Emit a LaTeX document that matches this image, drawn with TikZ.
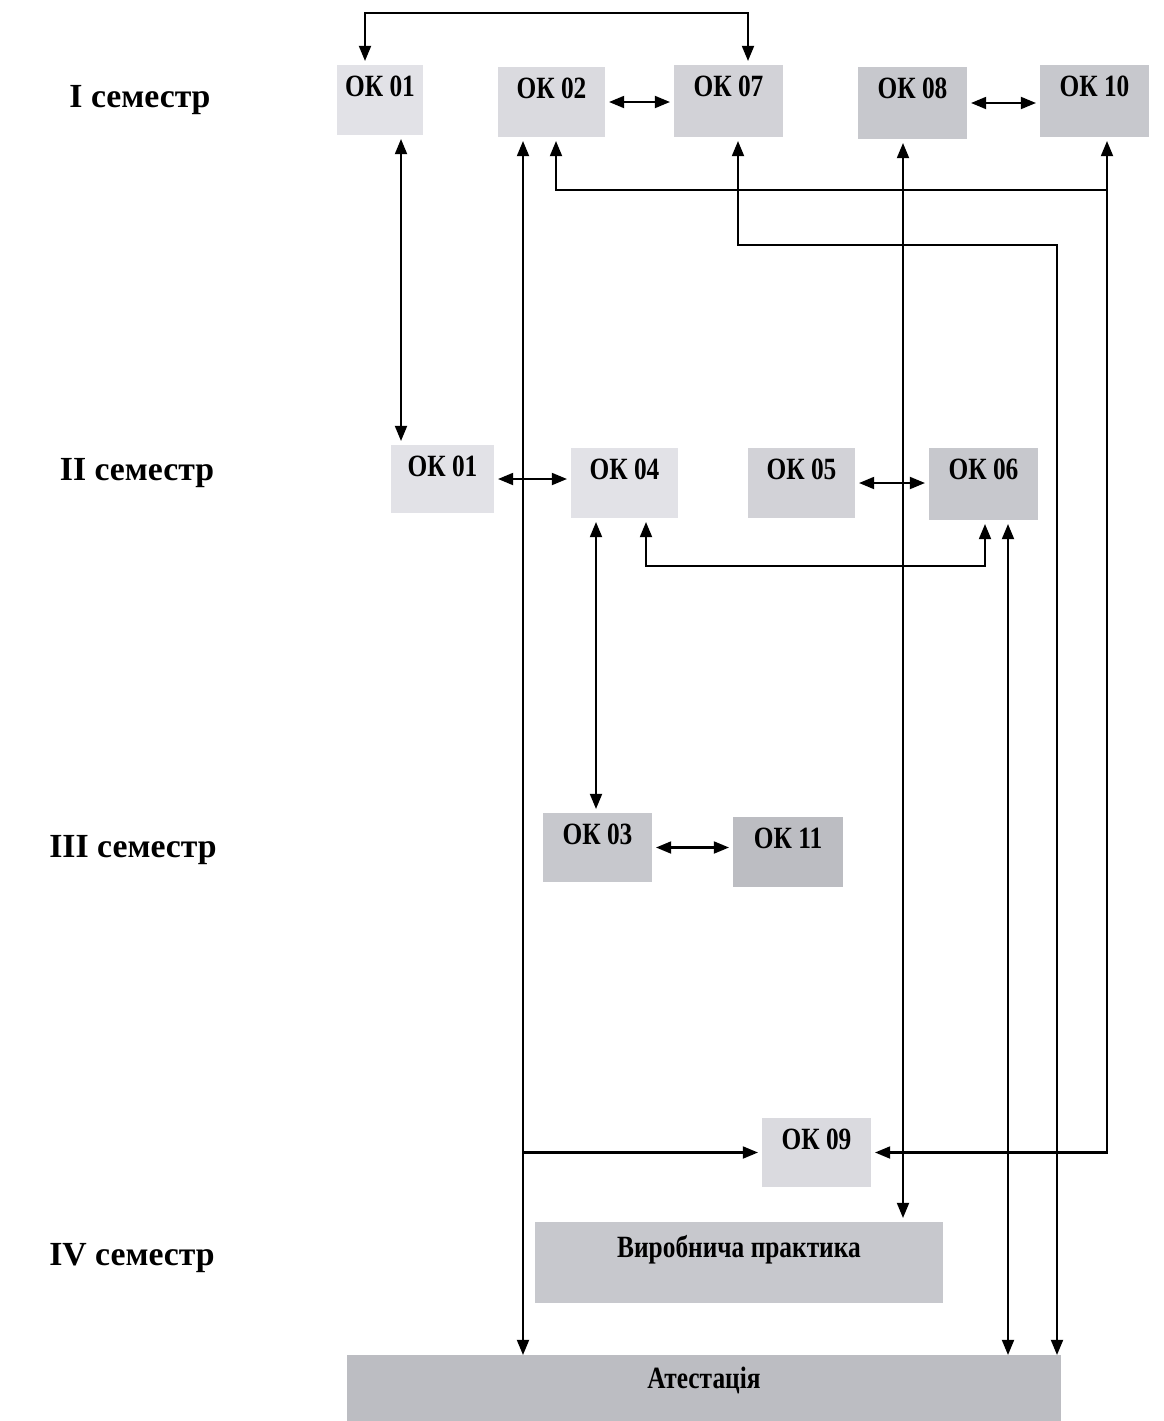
\documentclass[tikz,border=0pt]{standalone}
\usepackage{fontspec}
\setmainfont{Liberation Serif}
\usetikzlibrary{arrows.meta}

\definecolor{grayA}{RGB}{226,226,231}
\definecolor{grayB}{RGB}{218,218,223}
\definecolor{grayC}{RGB}{210,210,215}
\definecolor{grayD}{RGB}{199,200,205}
\definecolor{grayE}{RGB}{188,189,194}

\newcommand{\oktext}[1]{\scalebox{0.82}[1]{#1}}

\tikzset{
  okbox/.style={fill=#1, inner sep=0pt, outer sep=0.1cm, text height=0.78cm,
    font=\bfseries\fontsize{22}{24}\selectfont},
  semlabel/.style={font=\bfseries\fontsize{24}{28}\selectfont},
}

\begin{document}
\begin{tikzpicture}[x=0.025cm, y=-0.025cm, line width=1.5pt,
    >={Triangle[length=3.8mm,width=3mm]}]
    \useasboundingbox (0,0) rectangle (1164,1421);

    % semesters
    \node[semlabel] (sem1) at (140,100) {I семестр};
    \node[semlabel] (sem2) at (137,473) {II семестр};
    \node[semlabel] (sem3) at (133,850) {III семестр};
    \node[semlabel] (sem4) at (132,1258) {IV семестр};

    % I semester
    \node[okbox=grayA, minimum width=2.15cm, text depth=0.97cm] (ok01a) at (380,100) {\oktext{ОК 01}};
    \node[okbox=grayB, minimum width=2.675cm, text depth=0.97cm] (ok02) at (551.5,102) {\oktext{ОК 02}};
    \node[okbox=grayC, minimum width=2.725cm, text depth=1.02cm] (ok07) at (728.5,101) {\oktext{ОК 07}};
    \node[okbox=grayD, minimum width=2.725cm, text depth=1.02cm] (ok08) at (912.5,103) {\oktext{ОК 08}};
    \node[okbox=grayD, minimum width=2.725cm, text depth=1.02cm] (ok10) at (1094.5,101) {\oktext{ОК 10}};

    % II semester
    \node[okbox=grayA, minimum width=2.575cm, text depth=0.92cm] (ok01b) at (442.5,479) {\oktext{ОК 01}};
    \node[okbox=grayA, minimum width=2.675cm, text depth=0.97cm] (ok04) at (624.5,483) {\oktext{ОК 04}};
    \node[okbox=grayC, minimum width=2.675cm, text depth=0.97cm] (ok05) at (801.5,483) {\oktext{ОК 05}};
    \node[okbox=grayD, minimum width=2.725cm, text depth=1.02cm] (ok06) at (983.5,484) {\oktext{ОК 06}};

    % III semester
    \node[okbox=grayD, minimum width=2.725cm, text depth=0.945cm] (ok03) at (597.5,847.5) {\oktext{ОК 03}};
    \node[okbox=grayE, minimum width=2.75cm, text depth=0.97cm] (ok11) at (788,852) {\oktext{ОК 11}};

    % IV semester
    \node[okbox=grayB, minimum width=2.725cm, text depth=0.945cm] (ok09) at (816.5,1152.5) {\oktext{ОК 09}};
    \node[okbox=grayD, minimum width=10.2cm, text height=0.88cm, text depth=1.145cm] (prakt) at (739,1262.5) {\oktext{Виробнича практика}};
    \node[okbox=grayE, outer sep=0pt, minimum width=17.85cm, text height=0.83cm, text depth=0.82cm] (atest) at (704,1388) {\oktext{Атестація}};

    % columns and bends
    \coordinate (top01) at (365,13);
    \coordinate (top07) at (748,13);
    \coordinate (c01) at (401,0);
    \coordinate (c02) at (523,0);
    \coordinate (c02b) at (556,0);
    \coordinate (c04) at (596,0);
    \coordinate (c04b) at (646,0);
    \coordinate (c07) at (738,0);
    \coordinate (c08) at (903,0);
    \coordinate (c06b) at (1008,0);
    \coordinate (c10) at (1107,0);
    \coordinate (j10) at (1107,190);
    \coordinate (j07) at (1057,245);
    \coordinate (j46) at (985,566);

    \draw[<->] (top01 |- ok01a.north) -- (top01) -- (top07) -- (top07 |- ok07.north);
    \draw[<->] (ok02.east) -- (ok02.east -| ok07.west);
    \draw[<->] (ok08.east) -- (ok08.east -| ok10.west);
    \draw[<->] (c01 |- ok01a.south) -- (c01 |- ok01b.north);
    \draw[<->] (c02 |- ok02.south) -- (c02 |- atest.north);
    \draw[->] (c02 |- ok09.west) -- (ok09.west);
    \draw[<->] (c10 |- ok10.south) |- (ok09.east);
    \draw[->] (j10) -| (c02b |- ok02.south);
    \draw[<->] (c07 |- ok07.south) |- (j07) -- (j07 |- atest.north);
    \draw[<->] (c08 |- ok08.south) -- (c08 |- prakt.north);

    \draw[<->] (ok01b.east) -- (ok01b.east -| ok04.west);
    \draw[<->] (ok05.east) -- (ok05.east -| ok06.west);
    \draw[<->] (c04 |- ok04.south) -- (c04 |- ok03.north);
    \draw[<->] (c04b |- ok04.south) |- (j46) -- (j46 |- ok06.south);
    \draw[<->] (c06b |- ok06.south) -- (c06b |- atest.north);
    \draw[<->] (ok03.east) -- (ok03.east -| ok11.west);
\end{tikzpicture}
\end{document}
